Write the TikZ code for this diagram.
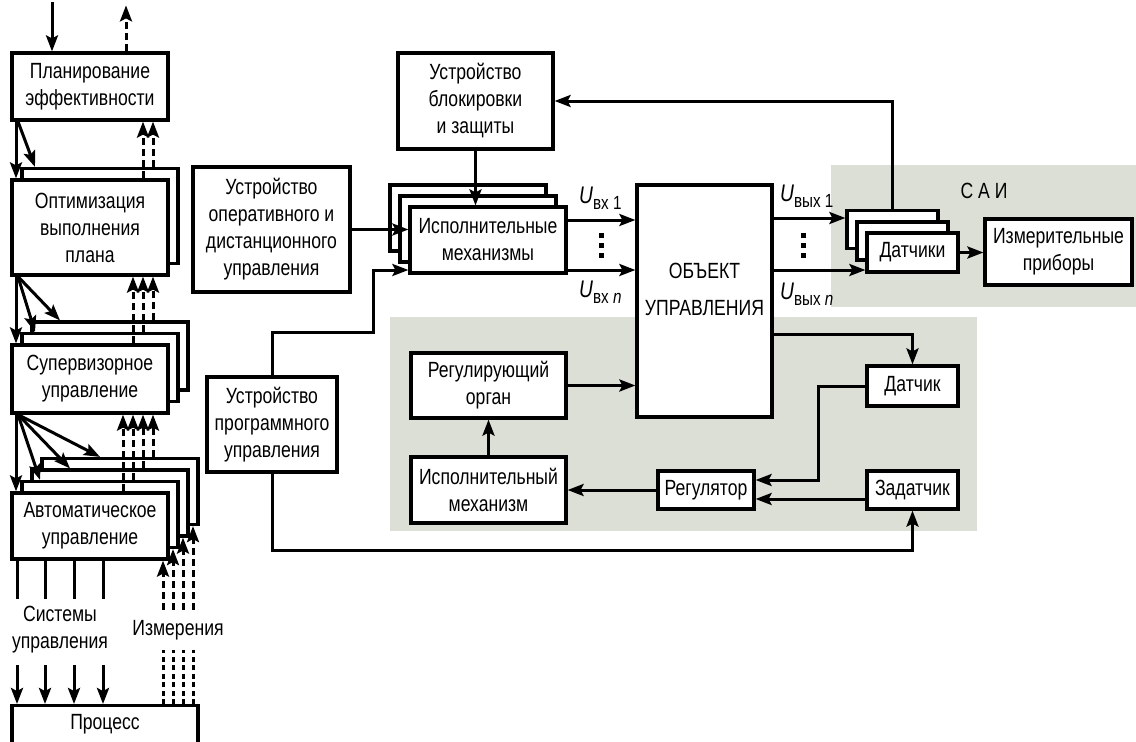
\documentclass[tikz,border=0pt]{standalone}
\usepackage{fontspec}
\setmainfont{Liberation Sans}[FakeStretch=0.80]
\usetikzlibrary{arrows.meta,calc}
\definecolor{zonecol}{RGB}{219,223,213}
\newcommand{\boxfont}{\fontsize{22}{27}\selectfont}
\newcommand{\subfont}{\fontsize{19}{19}\selectfont}
% U with a lowered subscript
\newcommand{\usig}[1]{{\fontsize{24}{24}\selectfont\textit{U}}\raisebox{-6pt}{\subfont #1}}

\begin{document}
\begin{tikzpicture}[x=1pt,y=-1pt,
  box/.style={draw, line width=3.2pt, fill=white, inner sep=0pt, align=center, font=\boxfont},
  bx/.style 2 args={box, minimum width=#1, minimum height=#2},
  txt/.style={inner sep=0pt, align=center, font=\boxfont},
  arr/.style={line width=3pt, -{Stealth[length=16pt,width=12pt,inset=3pt]}},
  ln/.style={line width=3pt},
  darr/.style={line width=3pt, dash pattern=on 7pt off 4pt, -{Stealth[length=16pt,width=12pt,inset=3pt]}},
  zone/.style={fill=zonecol}
]
\useasboundingbox (0,0) rectangle (1136,742);
\clip (0,0) rectangle (1136,742);
\fill[white] (0,0) rectangle (1136,742);

% shaded zones
\fill[zone] (831,165) rectangle (1136,307);
\fill[zone] (390,317) rectangle (977,531);
\node[txt] (sai) at (984,191) {С А И};

% ---------- left column: control hierarchy ----------
\node[bx={156}{67}] (plan) at (90,86.5) {Планирование\\эффективности};

\node[bx={156}{95}] (optB) at (100,216) {};
\node[bx={156}{95}] (opt) at (90,227.5) {Оптимизация\\выполнения\\плана};

\node[bx={156}{68}] (supC) at (110,356) {};
\node[bx={156}{68}] (supB) at (100,367.5) {};
\node[bx={156}{68}] (sup) at (90,379) {Супервизорное\\управление};

\node[bx={156}{66}] (autD) at (120,491.5) {};
\node[bx={156}{66}] (autC) at (110,503) {};
\node[bx={156}{66}] (autB) at (100,514.5) {};
\node[bx={156}{66}] (aut) at (90,526) {Автоматическое\\управление};

\node[box, minimum width=186, minimum height=70, anchor=north] (proc) at (105,704) {};
\node[txt, anchor=north] (proclbl) at ([yshift=-10pt]proc.north) {Процесс};

\node[txt] (ctrl) at (60,630) {Системы\\управления};
\node[txt] (meas) at (178,630) {Измерения};

% inputs and outputs of the planning level
\draw[arr] ([xshift=-38pt]plan.north) ++(0,-49) -- ([xshift=-38pt]plan.north);
\draw[darr] ([xshift=36pt]plan.north) -- ++(0,-46);

% commands going down
\draw[arr] ([xshift=-74pt]plan.south) -- ([xshift=-74pt]opt.north);
\draw[arr] ([xshift=-72pt]plan.south) -- ([xshift=-65pt]optB.north);

\draw[arr] ([xshift=-74pt]opt.south) -- ([xshift=-74pt]sup.north);
\draw[arr] ([xshift=-72pt]opt.south) -- ([xshift=-65pt]supB.north);
\draw[arr] ([xshift=-72pt]opt.south) -- ([xshift=-50pt]supC.north);

\draw[arr] ([xshift=-74pt]sup.south) -- ([xshift=-74pt]aut.north);
\draw[arr] ([xshift=-72pt]sup.south) -- ([xshift=-60pt]autB.north);
\draw[arr] ([xshift=-72pt]sup.south) -- ([xshift=-40pt]autC.north);
\draw[arr] ([xshift=-72pt]sup.south) -- ([xshift=-20pt]autD.north);

% reports going up
\draw[darr] ([xshift=53pt]opt.north) -- ([xshift=53pt]plan.south);
\draw[darr] ([xshift=53pt]optB.north) -- ([xshift=63pt]plan.south);

\draw[darr] ([xshift=43pt]sup.north) -- ([xshift=43pt]opt.south);
\draw[darr] ([xshift=43pt]supB.north) -- ([xshift=53pt]opt.south);
\draw[darr] ([xshift=43pt]supC.north) -- ([xshift=63pt]opt.south);

\draw[darr] ([xshift=33pt]aut.north) -- ([xshift=33pt]sup.south);
\draw[darr] ([xshift=33pt]autB.north) -- ([xshift=43pt]sup.south);
\draw[darr] ([xshift=33pt]autC.north) -- ([xshift=53pt]sup.south);
\draw[darr] ([xshift=33pt]autD.north) -- ([xshift=63pt]sup.south);

% control systems to the process
\foreach \dx/\px in {-73/-88,-45/-60,-16/-31,13/-2}{
  \draw[ln] ([xshift=\dx pt]aut.south) -- ++(0,38);
  \draw[arr] ([xshift=\px pt]proc.north) ++(0,-39) -- ([xshift=\px pt]proc.north);
}

% measurements from the process
\foreach \nd/\h in {aut/49,autB/60.5,autC/72,autD/83.5}{
  \draw[darr] ([xshift=73pt]\nd.south) ++(0,\h) -- ([xshift=73pt]\nd.south);
}
\foreach \px in {58,68,78,88}{
  \draw[line width=3pt, dash pattern=on 5pt off 3.5pt] ([xshift=\px pt]proc.north) -- ++(0,-54);
}

% ---------- middle: devices and object ----------
\node[bx={157}{125}] (oper) at (271.5,229.5) {Устройство\\оперативного и\\дистанционного\\управления};
\node[bx={155}{96}] (block) at (475.5,101) {Устройство\\блокировки\\и защиты};
\node[bx={130}{95}] (prog) at (272,424.5) {Устройство\\программного\\управления};

\node[bx={156}{66}] (execC) at (468,218) {};
\node[bx={156}{66}] (execB) at (478,229) {};
\node[bx={156}{66}] (exec) at (488,240) {Исполнительные\\механизмы};

\node[bx={135}{232}] (obj) at (704.5,301) {};
\node[txt] (objlbl) at ([yshift=12pt]obj.center) {ОБЪЕКТ\\[10pt]УПРАВЛЕНИЯ};

\node[bx={91}{38}] (datC) at (892.5,229.5) {};
\node[bx={91}{38}] (datB) at (902.5,241) {};
\node[bx={91}{39}] (dat) at (912.5,252.5) {Датчики};
\node[bx={147}{66}] (izm) at (1058.5,252) {Измерительные\\приборы};

% loop inside the lower zone
\node[bx={155}{65}] (reg) at (488.5,385.5) {Регулирующий\\орган};
\node[bx={155}{66}] (ism) at (488.5,490) {Исполнительный\\механизм};
\node[bx={96}{38}] (rgl) at (706,490) {Регулятор};
\node[bx={91}{40}] (sens) at (912.5,386) {Датчик};
\node[bx={91}{38}] (zad) at (912.5,490) {Задатчик};

% signal labels
\node[txt, anchor=base west] (uin1) at (579,203) {\usig{вх 1}};
\node[txt, anchor=base west] (uinn) at (579,297) {\usig{вх \textit{n}}};
\node[txt, anchor=base west] (uout1) at (780,201) {\usig{вых 1}};
\node[txt, anchor=base west] (uoutn) at (780,299) {\usig{вых \textit{n}}};

% vertical dots between the signal lines
\foreach \yy in {235,245,255}{
  \fill (599,\yy-2.5) rectangle (603.5,\yy+2.5);
  \fill (801,\yy-2.5) rectangle (805.5,\yy+2.5);
}

% connections of the middle part
\draw[arr] (oper.east) -- (oper.east -| exec.west);
\draw[arr] (block.south) -- (block.south |- exec.north);
\draw[arr] (prog.north) -- ++(0,-43) -- ++(101,0) |- ([yshift=-30pt]exec.west);
\draw[arr] (prog.south) -- ++(0,77) -| (zad.south);

\draw[arr] ([yshift=20pt]exec.east) -- ([yshift=20pt]exec.east -| obj.west);
\draw[arr] ([yshift=-30pt]exec.east) -- ([yshift=-30pt]exec.east -| obj.west);

\draw[arr] ([yshift=11.5pt]datC.west -| obj.east) -- ([yshift=11.5pt]datC.west);
\draw[arr] ([yshift=-17.5pt]dat.west -| obj.east) -- ([yshift=-17.5pt]dat.west);
\draw[arr] (dat.east) -- (dat.east -| izm.west);
\draw[arr] (datC.north) |- (block.east);

\draw[arr] (reg.east) -- (reg.east -| obj.west);
\draw[arr] (ism.north) -- (reg.south);
\draw[arr] (rgl.west) -- (rgl.west -| ism.east);
\draw[arr] ([yshift=-9pt]zad.west) -- ([yshift=-9pt]zad.west -| rgl.east);
\draw[arr] (sens.west) -- ++(-47,0) |- ([yshift=10pt]rgl.east);
\draw[arr] ([yshift=-33pt]obj.east) -| (sens.north);
\end{tikzpicture}
\end{document}
